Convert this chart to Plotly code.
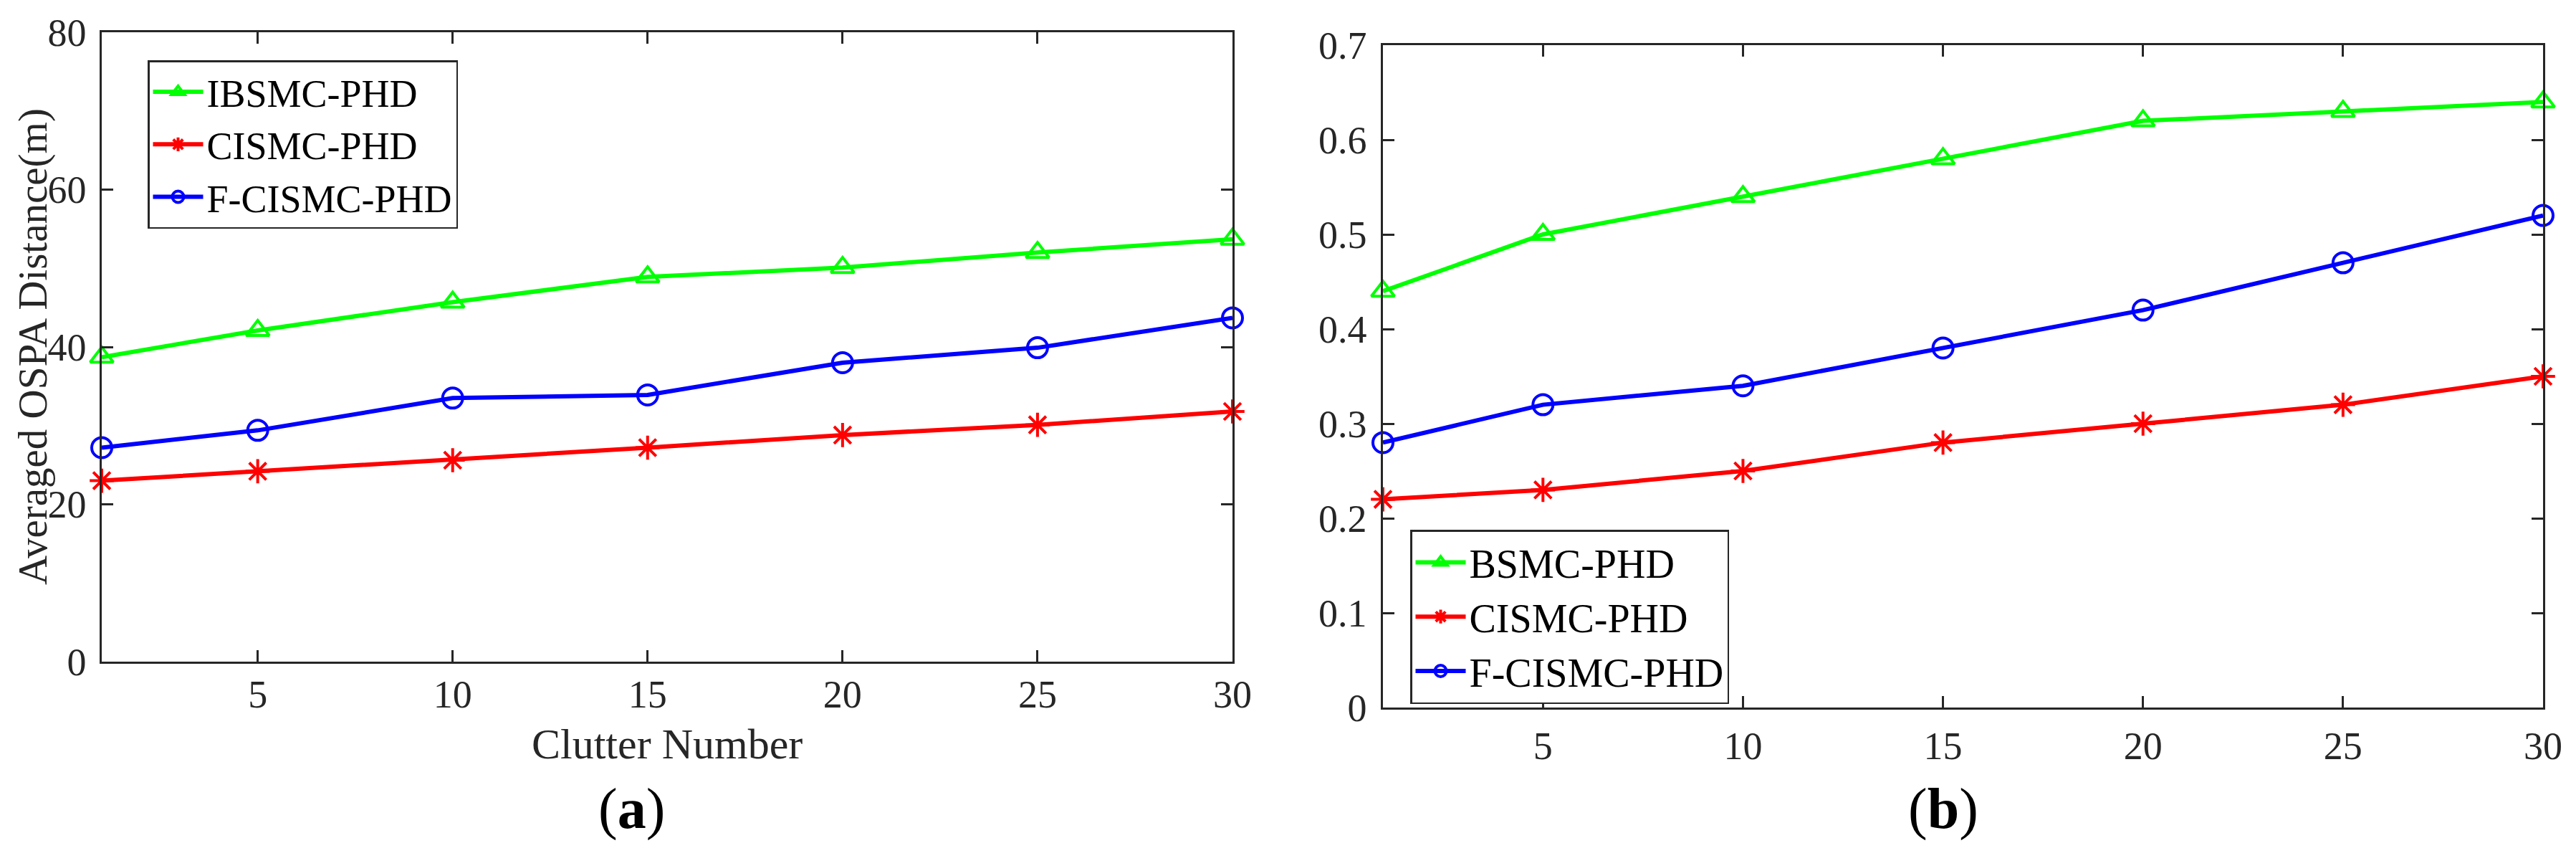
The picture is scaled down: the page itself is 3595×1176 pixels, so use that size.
import plotly.graph_objects as go

clutter = [1, 5, 10, 15, 20, 25, 30]

# (a) averaged OSPA distance
ospa_ibsmc = [38.7, 42.1, 45.7, 48.9, 50.1, 52.0, 53.7]
ospa_cismc = [23.0, 24.2, 25.6, 27.2, 28.8, 30.1, 31.8]
ospa_fcismc = [27.2, 29.4, 33.5, 33.9, 38.0, 39.9, 43.7]

# (b)
b_bsmc = [0.44, 0.50, 0.54, 0.58, 0.62, 0.63, 0.64]
b_cismc = [0.22, 0.23, 0.25, 0.28, 0.30, 0.32, 0.35]
b_fcismc = [0.28, 0.32, 0.34, 0.38, 0.42, 0.47, 0.52]

xticks = [5, 10, 15, 20, 25, 30]
yticks_a = [0, 20, 40, 60, 80]
yticks_b = [0, 0.1, 0.2, 0.3, 0.4, 0.5, 0.6, 0.7]

W, H = 3595, 1176
FONT = "Liberation Serif"
AXC = "#262626"

GREEN = "#00ff00"
RED = "#ff0000"
BLUE = "#0000ff"


def series(x, y, name, color, symbol, xa, ya, legend):
    return go.Scatter(
        x=x, y=y, name=name, mode="lines+markers",
        xaxis=xa, yaxis=ya, legend=legend,
        cliponaxis=False,
        line=dict(color=color, width=6),
        marker=dict(symbol=symbol, size=28, color=color,
                    line=dict(color=color, width=4)),
    )


fig = go.Figure()
fig.add_trace(series(clutter, ospa_ibsmc, "IBSMC-PHD", GREEN, "triangle-up-open", "x", "y", "legend"))
fig.add_trace(series(clutter, ospa_cismc, "CISMC-PHD", RED, "asterisk-open", "x", "y", "legend"))
fig.add_trace(series(clutter, ospa_fcismc, "F-CISMC-PHD", BLUE, "circle-open", "x", "y", "legend"))
fig.add_trace(series(clutter, b_bsmc, "BSMC-PHD", GREEN, "triangle-up-open", "x2", "y2", "legend2"))
fig.add_trace(series(clutter, b_cismc, "CISMC-PHD", RED, "asterisk-open", "x2", "y2", "legend2"))
fig.add_trace(series(clutter, b_fcismc, "F-CISMC-PHD", BLUE, "circle-open", "x2", "y2", "legend2"))


def axis(domain, rng, ticks, anchor, standoff, size):
    return dict(
        domain=domain, range=rng, anchor=anchor, automargin=False,
        tickmode="array", tickvals=ticks,
        ticks="inside", ticklen=16, tickwidth=2.5, tickcolor=AXC,
        showline=True, linecolor=AXC, linewidth=2.5, mirror="ticks",
        showgrid=False, zeroline=False,
        tickfont=dict(family=FONT, size=size, color=AXC),
        ticklabelstandoff=standoff,
    )


def px_x(p):
    return p / W


def px_y(p):
    return 1 - p / H


fig.update_layout(
    template="none",
    width=W, height=H, autosize=False,
    margin=dict(l=0, r=0, t=0, b=0, pad=0),
    paper_bgcolor="white", plot_bgcolor="white",
    font=dict(family=FONT, color="black"),
    showlegend=True,
    xaxis=axis([px_x(134), px_x(1712)], [1, 30], xticks, "y", -4, 54),
    yaxis=axis([px_y(915), px_y(37)], [0, 80], yticks_a, "x", 8, 54),
    xaxis2=axis([px_x(1922), px_x(3541)], [1, 30], xticks, "y2", 4, 54),
    yaxis2=axis([px_y(979), px_y(55)], [0, 0.7], yticks_b, "x2", 9, 54),
    legend=dict(
        x=px_x(198), y=px_y(76), xanchor="left", yanchor="top",
        bgcolor="white", bordercolor=AXC, borderwidth=2.5,
        font=dict(family=FONT, size=54, color="black"),
        itemwidth=70,
    ),
    legend2=dict(
        x=px_x(1960), y=px_y(731), xanchor="left", yanchor="top",
        bgcolor="white", bordercolor=AXC, borderwidth=2.5,
        font=dict(family=FONT, size=56, color="black"),
        itemwidth=70,
    ),
    annotations=[
        dict(text="Clutter Number", xref="paper", yref="paper",
             x=px_x(923), y=px_y(1030), showarrow=False,
             xanchor="center", yanchor="middle",
             font=dict(family=FONT, size=60, color=AXC)),
        dict(text="Averaged OSPA Distance(m)", xref="paper", yref="paper",
             x=px_x(38), y=px_y(476), showarrow=False, textangle=-90,
             xanchor="center", yanchor="middle",
             font=dict(family=FONT, size=57, color=AXC)),
        dict(text="(<b>a</b>)", xref="paper", yref="paper",
             x=px_x(873), y=px_y(1120), showarrow=False,
             xanchor="center", yanchor="middle",
             font=dict(family=FONT, size=80, color="black")),
        dict(text="(<b>b</b>)", xref="paper", yref="paper",
             x=px_x(2704), y=px_y(1120), showarrow=False,
             xanchor="center", yanchor="middle",
             font=dict(family=FONT, size=80, color="black")),
    ],
)

fig.write_html("out.html")
